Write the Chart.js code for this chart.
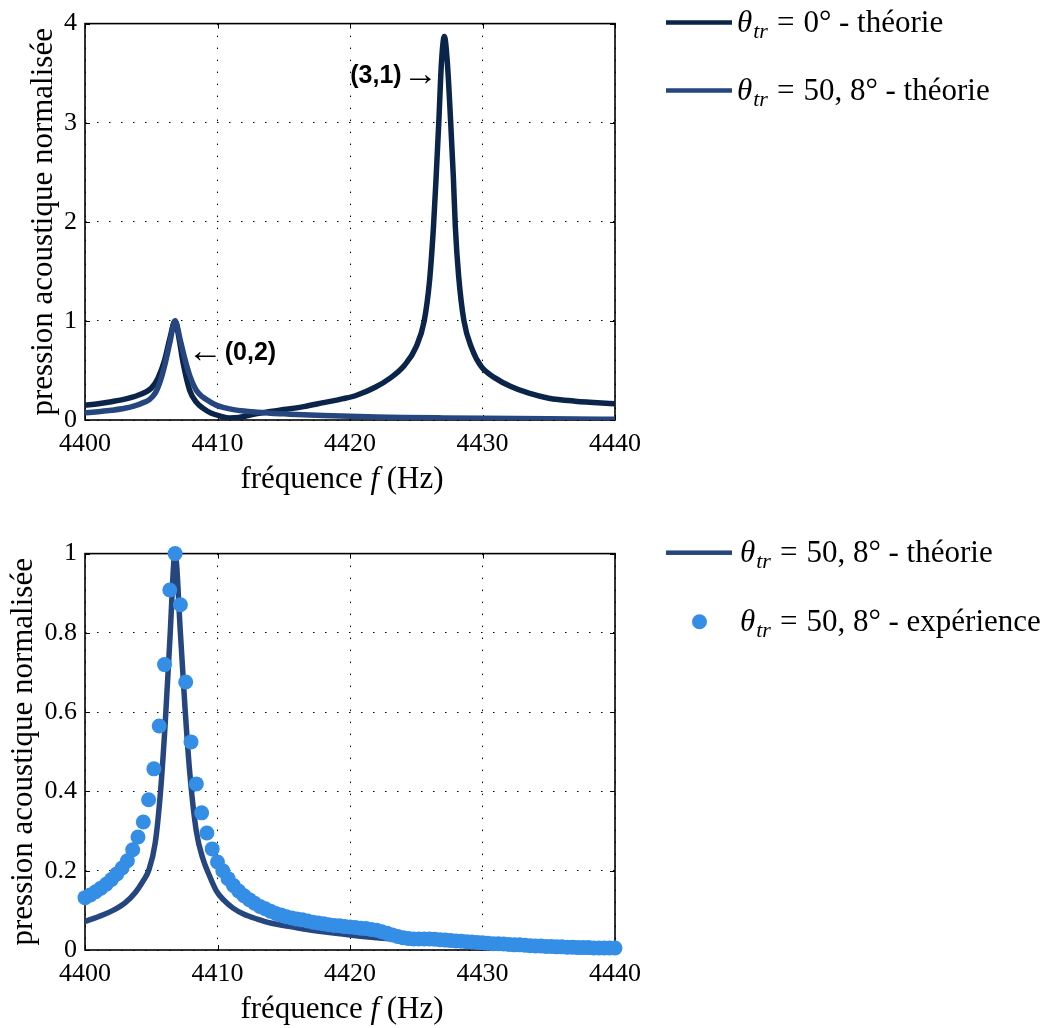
<!DOCTYPE html>
<html lang="fr">
<head>
<meta charset="UTF-8">
<title>Pression acoustique normalisée</title>
<script src="https://cdn.jsdelivr.net/npm/chart.js"></script>
<style>
  html, body { margin: 0; padding: 0; background: #fff; overflow: hidden; }
  body { width: 1042px; height: 1028px; position: relative; }
  canvas { position: absolute; left: 0; }
  #top { top: 0; }
  #bottom { top: 530px; }
</style>
</head>
<body>
<canvas id="top" width="1042" height="520"></canvas>
<canvas id="bottom" width="1042" height="498"></canvas>

<script>
// theory, theta_tr = 0 deg
const freqTheo0 = [4400, 4401, 4402, 4403, 4404, 4405, 4405.5, 4406, 4406.4, 4406.8,
  4407.1, 4407.4, 4407.9, 4408.4, 4408.9, 4409.5, 4410.2, 4410.9, 4411.6, 4412.3,
  4413, 4414, 4415, 4416.5, 4418, 4419.5, 4420.5, 4421.9, 4423, 4424.1,
  4425, 4425.6, 4426, 4426.3, 4426.5, 4426.7, 4426.9, 4427.12, 4427.35, 4427.6,
  4427.8, 4427.95, 4428.2, 4428.6, 4429.2, 4429.9, 4431, 4432.1, 4433.5, 4435, 4437, 4440];
const theo0 = [0.15, 0.165, 0.185, 0.21, 0.25, 0.32, 0.42, 0.6, 0.82, 1.0,
  0.82, 0.58, 0.3, 0.18, 0.12, 0.07, 0.04, 0.02, 0.025, 0.045,
  0.065, 0.085, 0.105, 0.135, 0.175, 0.215, 0.25, 0.33, 0.42, 0.55,
  0.74, 1.0, 1.4, 1.95, 2.45, 3.0, 3.6, 3.87, 3.6, 3.0,
  2.45, 1.95, 1.45, 1.0, 0.72, 0.54, 0.42, 0.34, 0.27, 0.22, 0.19, 0.165];

// theory, theta_tr = 50,8 deg
const freqTheo51 = [4400, 4401, 4402, 4403, 4403.8, 4404.4, 4404.8, 4405.3, 4405.7, 4406.05,
  4406.4, 4406.8, 4407.2, 4407.55, 4407.9, 4408.4, 4408.9, 4409.3, 4409.9, 4410.5,
  4411.2, 4412, 4413, 4414, 4415, 4416.5, 4418, 4420, 4422, 4424, 4427, 4430, 4435, 4440];
const theo51 = [0.072, 0.084, 0.098, 0.118, 0.145, 0.175, 0.2, 0.27, 0.4, 0.57,
  0.78, 1.0, 0.8, 0.61, 0.45, 0.3, 0.23, 0.195, 0.15, 0.125,
  0.105, 0.09, 0.078, 0.068, 0.062, 0.053, 0.046, 0.038, 0.031, 0.026, 0.021, 0.017, 0.012, 0.008];

// measurements, theta_tr = 50,8 deg
const freqExp = [4400.0, 4400.4, 4400.8, 4401.2, 4401.6, 4402.0, 4402.4, 4402.8, 4403.2, 4403.6,
  4404.0, 4404.4, 4404.8, 4405.2, 4405.6, 4406.0, 4406.4, 4406.8, 4407.2, 4407.6,
  4408.0, 4408.4, 4408.8, 4409.2, 4409.6, 4410.0, 4410.4, 4410.8, 4411.2, 4411.6,
  4412.0, 4412.4, 4412.8, 4413.2, 4413.6, 4414.0, 4414.4, 4414.8, 4415.2, 4415.6,
  4416.0, 4416.4, 4416.8, 4417.2, 4417.6, 4418.0, 4418.4, 4418.8, 4419.2, 4419.6,
  4420.0, 4420.4, 4420.8, 4421.2, 4421.6, 4422.0, 4422.4, 4422.8, 4423.2, 4423.6,
  4424.0, 4424.4, 4424.8, 4425.2, 4425.6, 4426.0, 4426.4, 4426.8, 4427.2, 4427.6,
  4428.0, 4428.4, 4428.8, 4429.2, 4429.6, 4430.0, 4430.4, 4430.8, 4431.2, 4431.6,
  4432.0, 4432.4, 4432.8, 4433.2, 4433.6, 4434.0, 4434.4, 4434.8, 4435.2, 4435.6,
  4436.0, 4436.4, 4436.8, 4437.2, 4437.6, 4438.0, 4438.4, 4438.8, 4439.2, 4439.6, 4440.0];
const exp51 = [0.132, 0.139, 0.147, 0.156, 0.166, 0.178, 0.192, 0.207, 0.225, 0.253,
  0.285, 0.323, 0.379, 0.457, 0.565, 0.72, 0.908, 1.0, 0.871, 0.676,
  0.525, 0.419, 0.346, 0.295, 0.255, 0.222, 0.2, 0.18, 0.163, 0.149,
  0.137, 0.127, 0.118, 0.11, 0.104, 0.098, 0.092, 0.088, 0.084, 0.081,
  0.078, 0.076, 0.073, 0.07, 0.068, 0.066, 0.064, 0.062, 0.061, 0.059,
  0.058, 0.057, 0.055, 0.054, 0.052, 0.05, 0.046, 0.042, 0.038, 0.034,
  0.031, 0.029, 0.028, 0.028, 0.028, 0.028, 0.027, 0.026, 0.025, 0.024,
  0.023, 0.022, 0.021, 0.02, 0.019, 0.018, 0.017, 0.016, 0.016, 0.015,
  0.014, 0.013, 0.013, 0.012, 0.011, 0.01, 0.01, 0.009, 0.009, 0.008,
  0.008, 0.007, 0.007, 0.006, 0.006, 0.006, 0.005, 0.005, 0.005, 0.005, 0.005];

const xTicks = [4400, 4410, 4420, 4430, 4440];
const yTicksTop = [0, 1, 2, 3, 4];
const yTicksBottom = [0, 0.2, 0.4, 0.6, 0.8, 1];

const colTheo0 = '#0b2449';
const colTheo51 = '#25467f';
const colExp = '#348ee6';

const SERIF = "'Liberation Serif', serif";
Chart.defaults.font.family = SERIF;
Chart.defaults.color = '#000';

const pairs = (xs, ys) => xs.map((x, i) => ({ x: x, y: ys[i] }));

// box around the plot, small inward ticks on all four sides, x label with italic f
const framePlugin = {
  id: 'frame',
  beforeDatasetsDraw(chart) {
    const { ctx, chartArea: a, scales: { x, y } } = chart;
    ctx.save();
    ctx.strokeStyle = '#000';
    ctx.lineWidth = 1;
    ctx.beginPath();
    x.ticks.forEach(t => {
      const px = Math.round(x.getPixelForValue(t.value)) + 0.5;
      ctx.moveTo(px, a.bottom); ctx.lineTo(px, a.bottom - 5);
      ctx.moveTo(px, a.top); ctx.lineTo(px, a.top + 5);
    });
    y.ticks.forEach(t => {
      const py = Math.round(y.getPixelForValue(t.value)) + 0.5;
      ctx.moveTo(a.left, py); ctx.lineTo(a.left + 5, py);
      ctx.moveTo(a.right, py); ctx.lineTo(a.right - 5, py);
    });
    ctx.stroke();
    ctx.lineWidth = 1.6;
    ctx.strokeRect(a.left, a.top, a.right - a.left, a.bottom - a.top);
    ctx.restore();
  },
  afterDraw(chart) {
    const { ctx, chartArea: a } = chart;
    const parts = [['fréquence ', 'normal'], ['f', 'italic'], [' (Hz)', 'normal']];
    ctx.save();
    ctx.fillStyle = '#000';
    ctx.textBaseline = 'alphabetic';
    let w = 0;
    parts.forEach(p => { ctx.font = p[1] + ' 31px ' + SERIF; w += ctx.measureText(p[0]).width; });
    let xx = (a.left + a.right) / 2 - 8 - w / 2;
    parts.forEach(p => {
      ctx.font = p[1] + ' 31px ' + SERIF;
      ctx.fillText(p[0], xx, a.bottom + 68);
      xx += ctx.measureText(p[0]).width;
    });
    ctx.restore();
  }
};

// legend at the right of a chart: theta_tr with subscript, then the rest of the label
function legendPlugin(entries) {
  return {
    id: 'sideLegend',
    afterDraw(chart) {
      const ctx = chart.ctx;
      ctx.save();
      ctx.textBaseline = 'alphabetic';
      ctx.fillStyle = '#000';
      entries.forEach(e => {
        if (e.kind === 'line') {
          ctx.fillStyle = e.color;
          ctx.fillRect(666, e.y - 2.25, 66, 4.5);
        } else {
          ctx.fillStyle = e.color;
          ctx.beginPath();
          ctx.arc(699.5, e.y, 7.5, 0, Math.PI * 2);
          ctx.fill();
        }
        ctx.fillStyle = '#000';
        const base = e.y + 9;
        let xx = e.x;
        ctx.font = 'italic 31px ' + SERIF;
        ctx.fillText('θ', xx, base);
        xx += ctx.measureText('θ').width + 1;
        ctx.font = 'italic 22px ' + SERIF;
        ctx.fillText('tr', xx, base + 6);
        xx += ctx.measureText('tr').width + 9;
        ctx.font = '31px ' + SERIF;
        ctx.fillText('=', xx, base);
        xx += ctx.measureText('=').width + 9;
        ctx.fillText(e.rest, xx, base);
      });
      ctx.restore();
    }
  };
}

// "(3,1) ->" and "<- (0,2)" labels of the top chart
const modePlugin = {
  id: 'modes',
  afterDatasetsDraw(chart) {
    const { ctx, scales: { x, y } } = chart;
    ctx.save();
    ctx.fillStyle = '#000';
    ctx.textBaseline = 'middle';
    ctx.font = "bold 25px 'Liberation Sans'";
    ctx.textAlign = 'right';
    ctx.fillText('(3,1)', x.getPixelForValue(4423.9), y.getPixelForValue(3.47));
    ctx.textAlign = 'left';
    ctx.fillText('(0,2)', x.getPixelForValue(4410.55), y.getPixelForValue(0.675));
    ctx.font = "35px 'Liberation Serif', 'DejaVu Serif'";
    ctx.fillText('→', x.getPixelForValue(4424.0), y.getPixelForValue(3.47));
    ctx.fillText('←', x.getPixelForValue(4407.75), y.getPixelForValue(0.675));
    ctx.restore();
  }
};

function axes(yTicks, yMax, titlePad) {
  return {
    x: {
      type: 'linear', min: 4400, max: 4440,
      afterBuildTicks: s => { s.ticks = xTicks.map(v => ({ value: v })); },
      afterFit: s => { s.height = s.chart.height - 420; },
      grid: { color: '#000', lineWidth: 1, drawTicks: false },
      border: { display: false, dash: [1.5, 10.5] },
      ticks: { font: { size: 26 }, padding: 9, maxRotation: 0, callback: v => String(v) }
    },
    y: {
      type: 'linear', min: 0, max: yMax,
      afterBuildTicks: s => { s.ticks = yTicks.map(v => ({ value: v })); },
      afterFit: s => { s.width = 85; },
      grid: { color: '#000', lineWidth: 1, drawTicks: false },
      border: { display: false, dash: [1.5, 10.5] },
      ticks: { font: { size: 26 }, padding: 8, callback: v => String(v) },
      title: {
        display: true, text: 'pression acoustique normalisée',
        font: { size: 31, lineHeight: 1 }, padding: { top: titlePad, bottom: 0 }
      }
    }
  };
}

const common = {
  responsive: false,
  animation: false,
  events: [],
  layout: { padding: { top: 23, right: 427, left: 0, bottom: 0 } },
  plugins: { legend: { display: false }, tooltip: { enabled: false } }
};

new Chart(document.getElementById('top'), {
  type: 'scatter',
  data: {
    datasets: [
      {
        label: 'θtr = 50,8° - théorie',
        data: pairs(freqTheo51, theo51),
        showLine: true, borderColor: colTheo51, borderWidth: 5.5,
        pointRadius: 0, cubicInterpolationMode: 'monotone',
        borderCapStyle: 'round', borderJoinStyle: 'round', order: 0
      },
      {
        label: 'θtr = 0° - théorie',
        data: pairs(freqTheo0, theo0),
        showLine: true, borderColor: colTheo0, borderWidth: 5.5,
        pointRadius: 0, cubicInterpolationMode: 'monotone',
        borderCapStyle: 'round', borderJoinStyle: 'round', order: 1
      }
    ]
  },
  options: Object.assign({}, common, { scales: axes(yTicksTop, 4, 28) }),
  plugins: [framePlugin, modePlugin, legendPlugin([
    { kind: 'line', color: colTheo0, x: 737, y: 22.5, rest: '0° - théorie' },
    { kind: 'line', color: colTheo51, x: 737, y: 90.5, rest: '50, 8° - théorie' }
  ])]
});

new Chart(document.getElementById('bottom'), {
  type: 'scatter',
  data: {
    datasets: [
      {
        label: 'θtr = 50,8° - expérience',
        data: pairs(freqExp, exp51),
        showLine: false, pointRadius: 7.5, pointBorderWidth: 0,
        pointBackgroundColor: colExp, backgroundColor: colExp,
        clip: false, order: 0
      },
      {
        label: 'θtr = 50,8° - théorie',
        data: pairs(freqTheo51, theo51),
        showLine: true, borderColor: colTheo51, borderWidth: 5.5,
        pointRadius: 0, cubicInterpolationMode: 'monotone',
        borderCapStyle: 'round', borderJoinStyle: 'round', order: 1
      }
    ]
  },
  options: Object.assign({}, common, { scales: axes(yTicksBottom, 1, 8) }),
  plugins: [framePlugin, legendPlugin([
    { kind: 'line', color: colTheo51, x: 740, y: 22.7, rest: '50, 8° - théorie' },
    { kind: 'dot', color: colExp, x: 740, y: 91.7, rest: '50, 8° - expérience' }
  ])]
});
</script>
</body>
</html>
